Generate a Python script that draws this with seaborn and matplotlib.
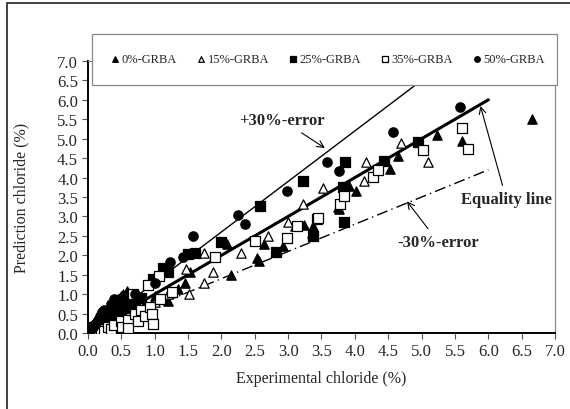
import numpy as np
import pandas as pd
import matplotlib
matplotlib.use("Agg")
import matplotlib.pyplot as plt
from matplotlib.patches import Rectangle
import seaborn as sns

# Experimental vs predicted chloride (%) for each GRBA replacement level
grba0_x = [0.05, 0.08, 0.10, 0.12, 0.15, 0.20, 0.25, 0.30, 0.35, 0.40, 0.45, 0.50, 0.52, 0.55, 0.58, 0.60,
           0.70, 0.85, 1.00, 1.20, 1.35, 1.45, 1.53, 2.08, 2.14, 2.53, 2.56, 2.64, 2.92, 3.24, 3.36, 3.37,
           3.75, 3.76, 3.91, 4.02, 4.53, 4.65, 5.23, 5.60, 6.66]
grba0_y = [0.03, 0.10, 0.08, 0.20, 0.15, 0.20, 0.30, 0.25, 0.55, 0.45, 0.70, 0.95, 1.00, 0.80, 1.08, 0.50,
           0.60, 0.75, 0.95, 0.82, 1.13, 1.29, 1.57, 2.29, 1.50, 1.93, 1.85, 2.29, 2.24, 2.78, 2.57, 2.75,
           3.24, 3.19, 3.79, 3.66, 4.22, 4.55, 5.09, 4.94, 5.50]

grba15_x = [0.05, 0.10, 0.15, 0.20, 0.25, 0.30, 0.35, 0.40, 0.45, 0.50, 0.60, 0.70, 0.80, 1.00, 1.20, 1.47,
            1.51, 1.74, 1.74, 1.87, 2.30, 2.70, 3.00, 3.10, 3.22, 3.52, 4.14, 4.17, 4.69, 5.10]
grba15_y = [0.05, 0.10, 0.12, 0.15, 0.20, 0.25, 0.30, 0.30, 0.35, 0.45, 0.50, 0.65, 0.70, 0.80, 1.00, 1.65,
            1.00, 1.29, 2.06, 1.57, 2.06, 2.49, 2.85, 2.75, 3.32, 3.72, 3.91, 4.39, 4.88, 4.39]

grba25_x = [0.02, 0.08, 0.10, 0.15, 0.20, 0.25, 0.30, 0.35, 0.40, 0.45, 0.50, 0.55, 0.60, 0.65, 0.70, 0.80,
            0.98, 1.13, 1.20, 1.50, 1.60, 2.00, 2.58, 2.82, 3.22, 3.37, 3.82, 3.84, 3.85, 4.44, 4.95]
grba25_y = [0.05, 0.10, 0.15, 0.20, 0.30, 0.35, 0.40, 0.45, 0.50, 0.55, 0.60, 0.65, 0.70, 0.75, 0.80, 0.90,
            1.39, 1.67, 1.57, 2.03, 2.06, 2.34, 3.27, 2.08, 3.91, 2.49, 3.75, 2.85, 4.39, 4.42, 4.91]

grba35_x = [0.05, 0.10, 0.15, 0.20, 0.25, 0.30, 0.35, 0.40, 0.50, 0.51, 0.60, 0.60, 0.67, 0.70, 0.75, 0.80,
            0.85, 0.90, 0.93, 0.96, 0.97, 1.07, 1.08, 1.26, 1.91, 2.50, 2.98, 3.13, 3.43, 3.45, 3.78, 3.84,
            4.27, 4.35, 5.02, 5.60, 5.70]
grba35_y = [0.02, 0.05, 0.08, 0.10, 0.05, 0.15, 0.10, 0.20, 0.30, 0.15, 0.35, 0.12, 1.00, 0.50, 0.30, 0.60,
            0.45, 1.23, 0.67, 0.49, 0.23, 1.47, 0.87, 1.05, 1.95, 2.37, 2.44, 2.75, 2.93, 2.96, 3.31, 3.52,
            4.01, 4.19, 4.70, 5.27, 4.73]

grba50_x = [0.03, 0.05, 0.08, 0.10, 0.12, 0.15, 0.18, 0.22, 0.25, 0.30, 0.35, 0.40, 0.45, 0.50, 0.70, 1.00,
            1.23, 1.42, 1.58, 2.25, 2.35, 2.99, 3.58, 3.76, 4.57, 5.58]
grba50_y = [0.05, 0.10, 0.15, 0.20, 0.25, 0.35, 0.45, 0.54, 0.60, 0.60, 0.75, 0.87, 0.80, 0.90, 1.00, 1.30,
            1.82, 1.95, 2.50, 3.03, 2.80, 3.66, 4.40, 4.16, 5.17, 5.81]

series_names = ["0%-GRBA", "15%-GRBA", "25%-GRBA", "35%-GRBA", "50%-GRBA"]
series_x = [grba0_x, grba15_x, grba25_x, grba35_x, grba50_x]
series_y = [grba0_y, grba15_y, grba25_y, grba35_y, grba50_y]
markers = ["^", "^", "s", "s", "o"]
filled = [True, False, True, False, True]

ticks = np.arange(0, 7.01, 0.5)

sns.set_theme(style="ticks")
plt.rcParams["font.family"] = ["Liberation Serif", "DejaVu Serif"]

fig = plt.figure(figsize=(5.7, 4.1), dpi=100)
ax = fig.add_axes([0.154, 0.185, 0.82, 0.664])

# Reference lines
line_x = np.array([0, 6.0])
ax.plot(line_x, line_x, color="black", lw=2.2, zorder=2)
ax.plot([0, 7.0 / 1.3], [0, 7.0], color="black", lw=1.0, zorder=2)
ax.plot(line_x, 0.7 * line_x, color="black", lw=1.0, linestyle=(0, (8, 3, 1, 3)), zorder=2)

# Scatter of each series
for name, xs, ys, m, f in zip(series_names, series_x, series_y, markers, filled):
    df = pd.DataFrame({"x": xs, "y": ys})
    sns.scatterplot(data=df, x="x", y="y", ax=ax, marker=m, s=45,
                    facecolor="black" if f else "white", edgecolor="black",
                    linewidth=0.9, label=name, zorder=3)

ax.set_xlim(0, 7)
ax.set_ylim(0, 7)
ax.set_xticks(ticks)
ax.set_yticks(ticks)
ax.set_xticklabels([f"{t:.1f}" for t in ticks])
ax.set_yticklabels([f"{t:.1f}" for t in ticks])
ax.tick_params(axis="both", labelsize=12, length=4, width=0.8, color="#555555", pad=3)
ax.set_xlabel("Experimental chloride (%)", fontsize=11.5, labelpad=8)
ax.set_ylabel("Prediction chloride (%)", fontsize=11.5, labelpad=20)

for side in ["left", "bottom"]:
    ax.spines[side].set_color("black")
    ax.spines[side].set_linewidth(1.4)
for side in ["top", "right"]:
    ax.spines[side].set_visible(True)
    ax.spines[side].set_color("#888888")
    ax.spines[side].set_linewidth(0.9)

# Annotations
arrow = dict(arrowstyle="->", color="black", lw=0.8, shrinkA=2, shrinkB=0)
ax.annotate("+30%-error", xy=(3.55, 4.76), xytext=(2.91, 5.48), ha="center", va="center",
            fontsize=12, fontweight="bold", arrowprops=arrow)
ax.annotate("-30%-error", xy=(4.78, 3.39), xytext=(5.25, 2.34), ha="center", va="center",
            fontsize=12, fontweight="bold", arrowprops=arrow)
ax.annotate("Equality line", xy=(5.88, 5.84), xytext=(6.27, 3.44), ha="center", va="center",
            fontsize=12, fontweight="bold", arrowprops=arrow, annotation_clip=False)

# Legend box on top of the plot area
handles, labels = ax.get_legend_handles_labels()
ax.get_legend().remove()
box = Rectangle((0.161, 0.790), 0.816, 0.125, transform=fig.transFigure,
                facecolor="white", edgecolor="#888888", lw=0.9, zorder=4)
fig.patches.append(box)
fig.legend(handles, labels, ncol=5, loc="center", bbox_to_anchor=(0.185, 0.79, 0.78, 0.125),
           bbox_transform=fig.transFigure, mode="expand", frameon=False, fontsize=9,
           markerscale=0.6, handletextpad=0.1, handlelength=0.8, borderaxespad=0)

# Outer chart frame
frame = Rectangle((7 / 570, -0.1), 1.0, 1.09, transform=fig.transFigure,
                  fill=False, edgecolor="#333333", lw=1.3, zorder=5)
fig.patches.append(frame)

fig.savefig("out.png", dpi=100)
